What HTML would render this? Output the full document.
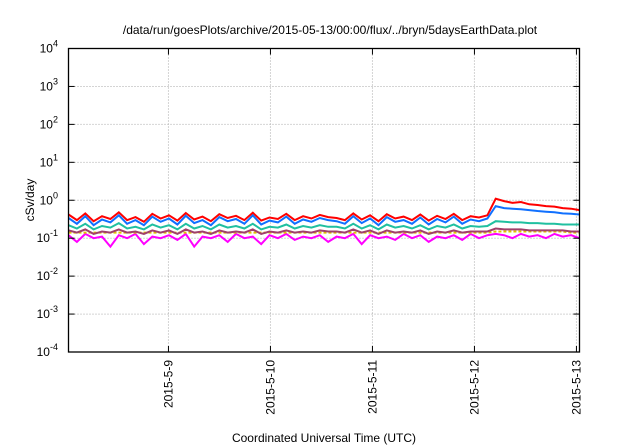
<!DOCTYPE html>
<html><head><meta charset="utf-8"><style>
body{margin:0;background:#fff}
svg{display:block;font-family:"Liberation Sans",sans-serif}
</style></head><body>
<svg id="chart" width="640" height="448" viewBox="0 0 640 448">
<rect width="640" height="448" fill="#fff"/>
<text x="330" y="34" font-size="12" text-anchor="middle">/data/run/goesPlots/archive/2015-05-13/00:00/flux/../bryn/5daysEarthData.plot</text>
<text transform="translate(34,200) rotate(-90)" font-size="12" text-anchor="middle">cSv/day</text>
<text x="324" y="442" font-size="12" text-anchor="middle">Coordinated Universal Time (UTC)</text>
<g id="grid"></g><g id="series"></g><g id="axes"></g>
</svg>
<script>
const yTickExps=[-4,-3,-2,-1,0,1,2,3,4];
const xTickDays=[1,2,3,4,5];
const xTickLabels=["2015-5-9","2015-5-10","2015-5-11","2015-5-12","2015-5-13"];
const tStart=0.02, tEnd=5.03;
const red=[0.42,0.3,0.45,0.28,0.38,0.32,0.48,0.3,0.36,0.27,0.44,0.33,0.4,0.29,0.46,0.31,0.37,0.28,0.43,0.34,0.39,0.3,0.47,0.29,0.35,0.32,0.44,0.3,0.38,0.33,0.41,0.36,0.34,0.3,0.45,0.31,0.4,0.28,0.43,0.33,0.37,0.3,0.42,0.29,0.39,0.32,0.44,0.3,0.38,0.35,0.4,1.1,0.95,0.85,0.9,0.78,0.75,0.7,0.68,0.62,0.6,0.55];
const blue=[0.34,0.24,0.38,0.22,0.31,0.26,0.4,0.24,0.3,0.22,0.37,0.27,0.33,0.23,0.39,0.25,0.3,0.22,0.36,0.28,0.32,0.24,0.4,0.23,0.29,0.26,0.37,0.24,0.31,0.27,0.34,0.3,0.28,0.24,0.38,0.25,0.33,0.22,0.36,0.27,0.3,0.24,0.35,0.23,0.32,0.26,0.37,0.24,0.31,0.28,0.33,0.7,0.62,0.6,0.58,0.55,0.52,0.5,0.48,0.45,0.44,0.42];
const teal=[0.22,0.18,0.24,0.17,0.21,0.19,0.25,0.18,0.2,0.17,0.23,0.19,0.22,0.17,0.24,0.18,0.21,0.17,0.23,0.19,0.21,0.18,0.24,0.17,0.2,0.19,0.23,0.18,0.21,0.19,0.22,0.2,0.2,0.18,0.24,0.18,0.22,0.17,0.23,0.19,0.21,0.18,0.22,0.17,0.21,0.19,0.23,0.18,0.21,0.2,0.21,0.28,0.27,0.26,0.26,0.25,0.25,0.24,0.24,0.23,0.23,0.23];
const purple=[0.16,0.14,0.17,0.13,0.15,0.14,0.17,0.14,0.15,0.13,0.16,0.14,0.16,0.13,0.17,0.14,0.15,0.13,0.16,0.14,0.15,0.14,0.17,0.13,0.15,0.14,0.16,0.14,0.15,0.14,0.16,0.15,0.15,0.14,0.17,0.14,0.16,0.13,0.16,0.14,0.15,0.14,0.16,0.13,0.15,0.14,0.16,0.14,0.15,0.15,0.15,0.18,0.17,0.17,0.17,0.16,0.16,0.16,0.16,0.16,0.15,0.15];
const yellow=[0.14,0.14,0.14,0.14,0.14,0.14,0.14,0.14,0.14,0.14,0.14,0.14,0.14,0.14,0.14,0.14,0.14,0.14,0.14,0.14,0.14,0.14,0.14,0.14,0.14,0.14,0.14,0.14,0.14,0.14,0.14,0.14,0.14,0.14,0.14,0.14,0.14,0.14,0.14,0.14,0.14,0.14,0.14,0.14,0.14,0.14,0.14,0.14,0.14,0.14,0.14,0.15,0.15,0.15,0.15,0.15,0.15,0.15,0.15,0.15,0.14,0.14];
const magenta=[0.12,0.08,0.13,0.1,0.11,0.06,0.12,0.1,0.13,0.07,0.11,0.1,0.12,0.09,0.13,0.06,0.11,0.1,0.12,0.08,0.13,0.1,0.11,0.07,0.12,0.1,0.13,0.09,0.11,0.1,0.12,0.08,0.11,0.1,0.13,0.07,0.12,0.1,0.11,0.09,0.13,0.1,0.12,0.08,0.11,0.1,0.12,0.09,0.13,0.1,0.12,0.13,0.12,0.1,0.13,0.11,0.12,0.1,0.13,0.11,0.12,0.1];
const seriesList=[["magenta-series",magenta,"#ff00ff",""],["yellow-series",yellow,"#e0c000","3,2"],["purple-series",purple,"#a0406a",""],["teal-series",teal,"#20c0a0",""],["red-series",red,"#ff0000",""],["blue-series",blue,"#1070ff",""]];
const L=68.5,R=579.5,T=48.5,B=352;
const xS=t=>L+(t-tStart)/(tEnd-tStart)*(R-L);
const yS=v=>B-(Math.log10(v)+4)/8*(B-T);
const NS="http://www.w3.org/2000/svg";
const mk=(p,tag,at)=>{const e=document.createElementNS(NS,tag);for(const k in at)e.setAttribute(k,at[k]);p.appendChild(e);return e;};
const grid=document.getElementById('grid'),axes=document.getElementById('axes'),ser=document.getElementById('series');
yTickExps.forEach(e=>{const y=yS(Math.pow(10,e));
 if(e>-4&&e<4){const g=mk(grid,'line',{x1:L,x2:R,y1:y,y2:y,stroke:'#aaa','stroke-dasharray':'1,2','stroke-width':1});
 
 }
 mk(axes,'line',{x1:L,x2:L+6,y1:y,y2:y,stroke:'#000'});mk(axes,'line',{x1:R-6,x2:R,y1:y,y2:y,stroke:'#000'});
 const t=mk(axes,'text',{x:58,y:y+4,'font-size':12,'text-anchor':'end'});
 
 
 t.textContent='10';const s=mk(t,'tspan',{dy:-6,'font-size':9});s.textContent=String(e);});
xTickDays.forEach((d,i)=>{const x=xS(d);
 const g=mk(grid,'line',{x1:x,x2:x,y1:T,y2:B,stroke:'#aaa','stroke-dasharray':'1,2'});
 
 
 mk(axes,'line',{x1:x,x2:x,y1:B,y2:B-6,stroke:'#000'});mk(axes,'line',{x1:x,x2:x,y1:T,y2:T+6,stroke:'#000'});
 const t=mk(axes,'text',{transform:`translate(${x+4},360) rotate(-90)`,'font-size':12,'text-anchor':'end'});
 
 
 t.textContent=xTickLabels[i];});
const fr=mk(axes,'rect',{x:L,y:T,width:R-L,height:B-T,fill:'none',stroke:'#000','stroke-width':1.3});


seriesList.forEach(([name,arr,col,dash])=>{const n=arr.length;
 const pts=arr.map((v,i)=>xS(tStart+i*(tEnd-tStart)/(n-1)).toFixed(1)+','+yS(v).toFixed(1)).join(' ');
 const p=mk(ser,'polyline',{points:pts,fill:'none',stroke:col,'stroke-width':2,'stroke-dasharray':dash||'none'});
 
 });
</script>
</body></html>
